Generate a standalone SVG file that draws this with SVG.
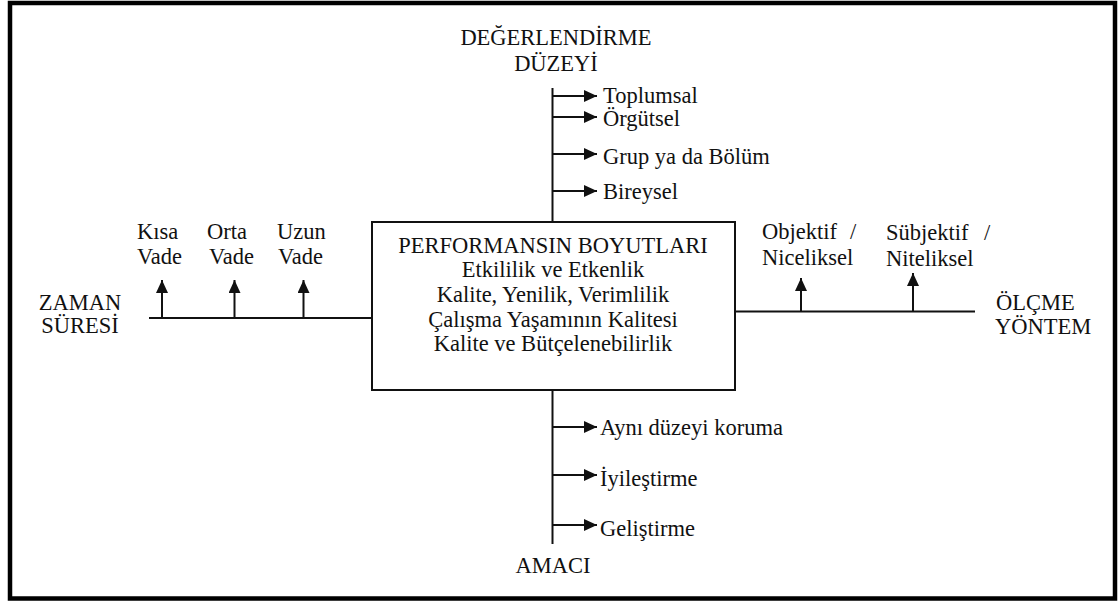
<svg xmlns="http://www.w3.org/2000/svg" width="1118" height="601" viewBox="0 0 1118 601">
<style>
.t{font-size:22.5px;fill:#111}
.c{text-anchor:middle}
.ln{stroke:#111;stroke-width:2;fill:none}
</style>
<defs>
<marker id="ah" markerWidth="14" markerHeight="12" refX="13" refY="6" orient="auto" markerUnits="userSpaceOnUse"><path d="M0,0 L13,6 L0,12 z" fill="#111"/></marker>
</defs>
<rect x="0" y="0" width="1118" height="601" fill="#fff"/>
<rect id="frame" x="10" y="3" width="1105" height="595.5" fill="none" stroke="#000" stroke-width="4.5"/>
<g id="connectors">
<line class="ln" x1="552.5" y1="88" x2="552.5" y2="222"/>
<line class="ln" x1="552.5" y1="96" x2="597" y2="96" marker-end="url(#ah)"/>
<line class="ln" x1="552.5" y1="117" x2="597" y2="117" marker-end="url(#ah)"/>
<line class="ln" x1="552.5" y1="154" x2="597" y2="154" marker-end="url(#ah)"/>
<line class="ln" x1="552.5" y1="191" x2="597" y2="191" marker-end="url(#ah)"/>
<line class="ln" x1="149" y1="318" x2="372" y2="318"/>
<line class="ln" x1="162" y1="318" x2="162" y2="280" marker-end="url(#ah)"/>
<line class="ln" x1="234.5" y1="318" x2="234.5" y2="280" marker-end="url(#ah)"/>
<line class="ln" x1="303.5" y1="318" x2="303.5" y2="280" marker-end="url(#ah)"/>
<line class="ln" x1="735" y1="311.5" x2="975" y2="311.5"/>
<line class="ln" x1="801" y1="311.5" x2="801" y2="278" marker-end="url(#ah)"/>
<line class="ln" x1="913" y1="311.5" x2="913" y2="273" marker-end="url(#ah)"/>
<line class="ln" x1="552.5" y1="390" x2="552.5" y2="544"/>
<line class="ln" x1="552.5" y1="427" x2="597" y2="427" marker-end="url(#ah)"/>
<line class="ln" x1="552.5" y1="475" x2="597" y2="475" marker-end="url(#ah)"/>
<line class="ln" x1="552.5" y1="525" x2="597" y2="525" marker-end="url(#ah)"/>
</g>
<g font-family="'Liberation Serif', 'Times New Roman', Times, serif">
<g id="center-box">
<rect x="372" y="222" width="363" height="168" fill="#fff" stroke="#111" stroke-width="2"/>
<text class="t c" x="553" y="253">PERFORMANSIN BOYUTLARI</text>
<text class="t c" x="553" y="277">Etkililik ve Etkenlik</text>
<text class="t c" x="553" y="302">Kalite, Yenilik, Verimlilik</text>
<text class="t c" x="553" y="327">Çalışma Yaşamının Kalitesi</text>
<text class="t c" x="553" y="351">Kalite ve Bütçelenebilirlik</text>
</g>
<g id="degerlendirme-duzeyi">
<text class="t c" x="556" y="45">DEĞERLENDİRME</text>
<text class="t c" x="556" y="71">DÜZEYİ</text>
</g>
<g id="toplumsal"><text class="t" x="603" y="103">Toplumsal</text></g>
<g id="orgutsel"><text class="t" x="603" y="126">Örgütsel</text></g>
<g id="grup"><text class="t" x="603" y="164">Grup ya da Bölüm</text></g>
<g id="bireysel"><text class="t" x="603" y="199">Bireysel</text></g>
<g id="zaman-suresi">
<text class="t c" x="80" y="310">ZAMAN</text>
<text class="t c" x="80" y="333">SÜRESİ</text>
</g>
<g id="kisa-vade"><text class="t" x="137" y="239">Kısa</text><text class="t" x="137" y="264">Vade</text></g>
<g id="orta-vade"><text class="t" x="207" y="239">Orta</text><text class="t" x="209" y="264">Vade</text></g>
<g id="uzun-vade"><text class="t" x="277" y="239">Uzun</text><text class="t" x="278" y="264">Vade</text></g>
<g id="objektif"><text class="t" x="762" y="239">Objektif <tspan x="850">/</tspan></text><text class="t" x="762" y="265">Niceliksel</text></g>
<g id="subjektif"><text class="t" x="886" y="240">Sübjektif <tspan x="984">/</tspan></text><text class="t" x="886" y="266">Niteliksel</text></g>
<g id="olcme-yontem">
<text class="t" x="996" y="310">ÖLÇME</text>
<text class="t" x="995" y="334">YÖNTEM</text>
</g>
<g id="ayni-duzeyi"><text class="t" x="600" y="435">Aynı düzeyi koruma</text></g>
<g id="iyilestirme"><text class="t" x="600" y="486">İyileştirme</text></g>
<g id="gelistirme"><text class="t" x="600" y="536">Geliştirme</text></g>
<g id="amaci"><text class="t c" x="553" y="573">AMACI</text></g>
</g>
</svg>
